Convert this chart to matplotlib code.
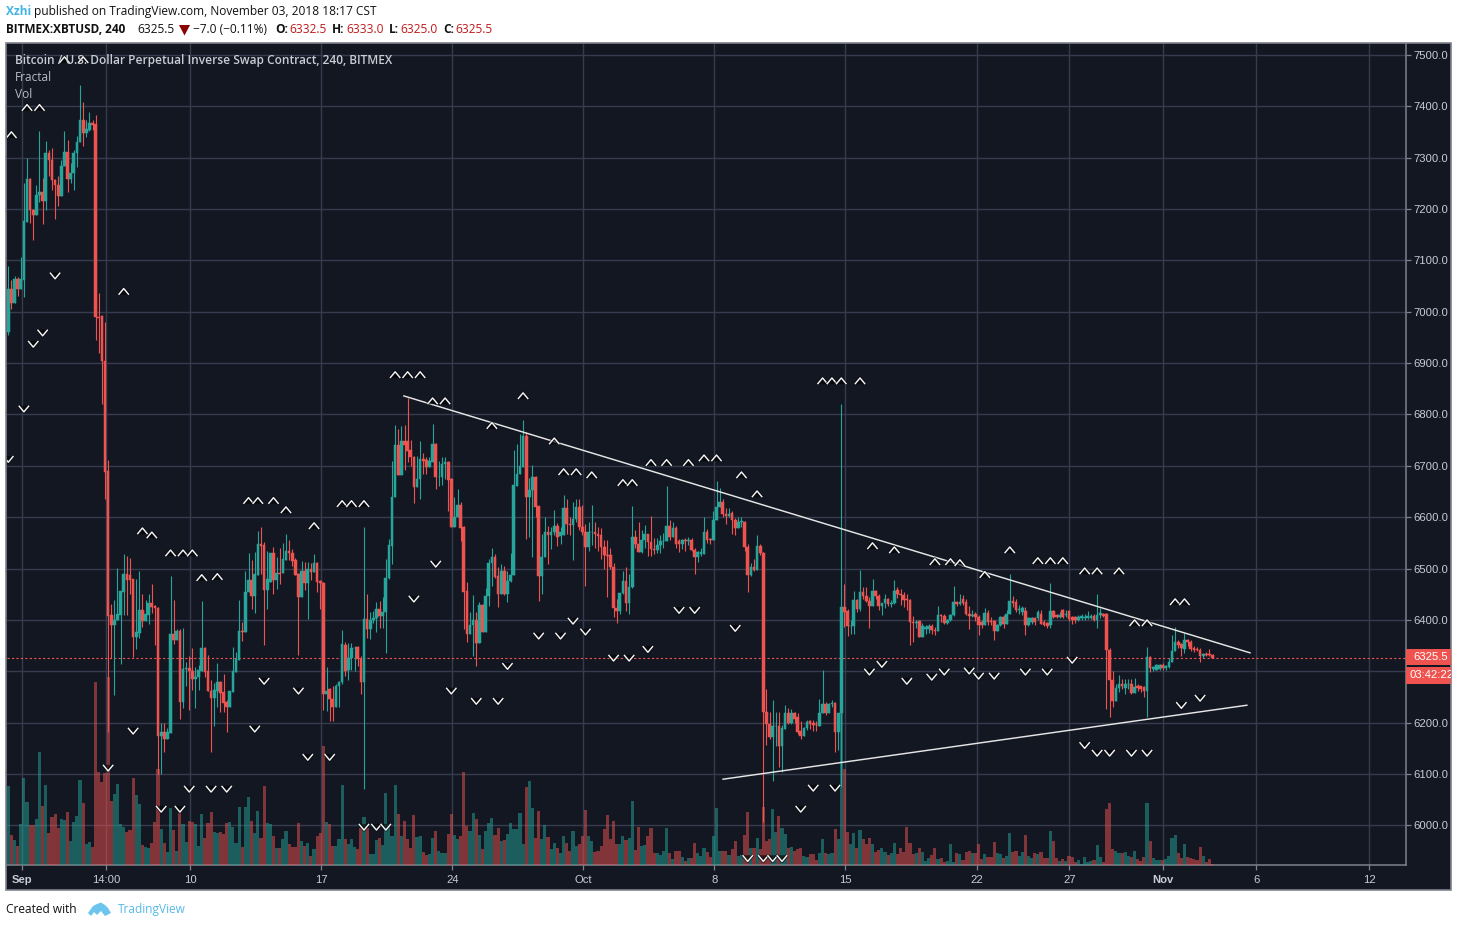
import matplotlib
matplotlib.use("Agg")
import matplotlib.pyplot as plt
from matplotlib.patches import Rectangle, Polygon
from matplotlib.path import Path
import matplotlib.patheffects as pe

W, H = 1458, 927
BG = "#131722"; GRID = "#363c4e"; UP = "#26a69a"; DOWN = "#ef5350"
FONT = "Open Sans"
AXIS_FONT = "Liberation Sans"

OPEN = [
6960,7045,7016,7063,7045,7061,7175,7258,7197,7188,
7228,7233,7215,7309,7295,7256,7247,7225,7284,7311,
7258,7269,7309,7330,7373,7347,7354,7367,7365,6990,
6992,6904,6690,6409,6390,6400,6409,6455,6489,6487,
6479,6367,6375,6419,6398,6409,6432,6428,6424,6175,
6182,6168,6180,6372,6361,6378,6241,6304,6306,6300,
6286,6289,6301,6346,6300,6262,6249,6262,6279,6259,
6240,6231,6260,6299,6322,6379,6377,6455,6477,6447,
6488,6547,6545,6458,6474,6530,6477,6492,6492,6516,
6534,6530,6516,6489,6445,6495,6472,6500,6493,6511,
6475,6471,6255,6265,6246,6231,6272,6279,6352,6302,
6326,6345,6347,6323,6280,6401,6383,6399,6404,6421,
6408,6415,6481,6543,6639,6740,6683,6748,6748,6730,
6718,6658,6675,6714,6711,6698,6708,6742,6678,6679,
6703,6707,6674,6580,6600,6623,6580,6457,6373,6391,
6399,6356,6429,6377,6446,6511,6523,6486,6451,6496,
6451,6475,6487,6660,6684,6698,6758,6640,6653,6679,
6621,6485,6522,6572,6566,6571,6582,6563,6565,6617,
6587,6584,6596,6619,6580,6572,6542,6571,6572,6568,
6566,6542,6526,6526,6503,6423,6418,6453,6475,6433,
6464,6562,6548,6533,6556,6567,6552,6539,6537,6545,
6553,6553,6582,6561,6578,6553,6548,6555,6553,6556,
6537,6522,6529,6529,6572,6558,6555,6594,6619,6629,
6607,6602,6609,6594,6579,6591,6591,6542,6488,6504,
6498,6543,6531,6221,6198,6173,6193,6193,6154,6188,
6218,6199,6218,6211,6183,6175,6190,6203,6199,6196,
6193,6218,6236,6218,6236,6239,6182,6218,6426,6418,
6389,6389,6438,6421,6454,6447,6436,6428,6457,6447,
6428,6433,6440,6431,6433,6458,6450,6448,6441,6438,
6396,6394,6398,6367,6382,6382,6388,6380,6378,6409,
6407,6394,6399,6409,6435,6431,6440,6435,6412,6408,
6411,6405,6396,6390,6414,6398,6398,6378,6390,6405,
6393,6412,6437,6435,6420,6416,6418,6390,6396,6403,
6403,6412,6396,6394,6390,6417,6409,6405,6419,6409,
6418,6406,6405,6399,6403,6403,6403,6404,6407,6399,
6409,6412,6412,6342,6284,6242,6268,6276,6268,6275,
6276,6258,6271,6271,6269,6262,6327,6305,6303,6305,
6313,6307,6308,6318,6340,6358,6354,6344,6360,6358,
6345,6343,6342,6329,6334,6334,6332.5]

HIGH = [
7089,7061,7070,7068,7107,7250,7299,7261,7200,7247,
7352,7260,7332,7315,7319,7258,7264,7295,7352,7334,
7290,7315,7341,7442,7408,7373,7388,7373,7383,7037,
6993,6980,6712,6431,6438,6501,6457,6528,6524,6520,
6480,6479,6495,6451,6438,6451,6470,6430,6426,6200,
6199,6190,6485,6438,6383,6383,6385,6319,6330,6346,
6309,6312,6437,6348,6332,6283,6278,6317,6282,6295,
6244,6261,6348,6338,6438,6396,6495,6530,6516,6532,
6574,6580,6552,6534,6530,6542,6523,6540,6550,6568,
6555,6538,6521,6492,6515,6513,6513,6510,6529,6513,
6477,6474,6309,6267,6272,6275,6282,6380,6358,6356,
6356,6350,6350,6330,6580,6450,6416,6417,6434,6437,
6444,6518,6558,6709,6779,6771,6777,6779,6832,6750,
6720,6720,6748,6724,6718,6718,6781,6744,6710,6718,
6718,6709,6676,6639,6654,6630,6582,6473,6416,6448,
6416,6434,6431,6463,6519,6540,6528,6503,6509,6505,
6496,6530,6730,6743,6761,6790,6766,6677,6702,6681,
6622,6567,6601,6582,6581,6614,6588,6581,6643,6636,
6600,6630,6636,6636,6623,6587,6590,6623,6590,6580,
6578,6556,6555,6540,6510,6440,6453,6496,6503,6490,
6621,6575,6590,6575,6585,6568,6602,6560,6560,6565,
6570,6660,6594,6590,6582,6558,6558,6560,6561,6560,
6540,6535,6540,6601,6577,6560,6613,6670,6656,6636,
6617,6617,6612,6598,6600,6600,6592,6548,6510,6519,
6566,6548,6533,6266,6221,6244,6221,6221,6195,6235,
6228,6226,6221,6218,6204,6192,6206,6206,6206,6204,
6247,6302,6241,6239,6245,6240,6218,6820,6470,6421,
6400,6457,6441,6498,6464,6464,6444,6479,6458,6451,
6433,6451,6442,6438,6477,6464,6460,6455,6450,6440,
6407,6399,6400,6395,6390,6393,6392,6387,6427,6412,
6412,6401,6412,6466,6437,6450,6448,6440,6428,6420,
6415,6410,6400,6424,6419,6405,6400,6392,6408,6410,
6419,6490,6446,6441,6429,6427,6425,6405,6405,6406,
6419,6419,6400,6396,6471,6420,6411,6415,6422,6420,
6420,6408,6408,6410,6412,6412,6418,6412,6412,6450,
6424,6414,6414,6345,6300,6275,6292,6285,6286,6285,
6285,6287,6275,6272,6272,6347,6330,6310,6314,6315,
6317,6312,6325,6370,6386,6360,6356,6375,6362,6360,
6350,6348,6345,6336,6338,6344,6333]

LOW = [
6954,7006,7016,7030,7045,7029,7175,7173,7139,7188,
7214,7170,7197,7264,7236,7181,7206,7225,7284,7232,
7251,7237,7282,7330,7323,7340,7352,7354,6944,6920,
6820,6635,6182,6325,6254,6400,6315,6409,6409,6451,
6327,6344,6364,6387,6398,6392,6413,6351,6100,6100,
6142,6168,6180,6353,6361,6208,6229,6271,6225,6263,
6228,6263,6301,6289,6262,6142,6194,6231,6221,6221,
6182,6231,6260,6299,6322,6359,6377,6455,6422,6414,
6488,6489,6351,6421,6474,6451,6461,6470,6492,6516,
6516,6505,6487,6332,6445,6458,6401,6477,6493,6455,
6422,6225,6223,6204,6203,6231,6231,6275,6290,6284,
6302,6300,6310,6256,6070,6365,6362,6394,6376,6385,
6385,6336,6480,6509,6639,6682,6683,6692,6707,6700,
6627,6658,6636,6685,6685,6698,6708,6654,6660,6662,
6675,6613,6580,6580,6600,6554,6383,6358,6373,6330,
6310,6356,6377,6377,6427,6466,6482,6425,6451,6449,
6435,6473,6487,6660,6684,6698,6558,6561,6522,6601,
6437,6451,6522,6509,6538,6566,6543,6548,6565,6568,
6565,6516,6590,6575,6565,6467,6535,6545,6540,6535,
6519,6500,6444,6500,6405,6395,6412,6450,6418,6412,
6462,6540,6532,6530,6540,6525,6524,6528,6530,6530,
6540,6553,6555,6561,6540,6532,6539,6535,6545,6535,
6490,6513,6525,6529,6550,6548,6555,6594,6619,6600,
6587,6600,6568,6565,6578,6580,6535,6454,6486,6495,
6498,6527,6006,6156,6169,6087,6155,6113,6104,6188,
6198,6198,6199,6178,6169,6175,6185,6188,6183,6183,
6193,6218,6215,6218,6231,6143,6147,6075,6386,6369,
6373,6373,6415,6418,6440,6434,6384,6428,6440,6419,
6410,6423,6428,6425,6431,6442,6430,6425,6420,6351,
6357,6385,6367,6367,6372,6375,6373,6370,6378,6396,
6393,6392,6398,6407,6428,6430,6430,6410,6383,6405,
6398,6370,6385,6390,6390,6390,6360,6378,6388,6385,
6393,6412,6425,6415,6412,6410,6370,6388,6393,6390,
6400,6393,6388,6385,6385,6403,6403,6403,6403,6405,
6397,6393,6395,6397,6400,6400,6401,6402,6398,6385,
6403,6405,6227,6211,6230,6242,6260,6265,6256,6265,
6255,6258,6262,6260,6250,6211,6299,6300,6303,6303,
6303,6303,6306,6318,6340,6345,6329,6335,6350,6340,
6338,6340,6318,6325,6330,6330,6325]

CLOSE = [
7045,7016,7063,7045,7063,7176,7258,7197,7188,7228,
7233,7215,7309,7295,7256,7247,7225,7284,7311,7258,
7269,7309,7330,7373,7347,7356,7367,7363,6990,6988,
6904,6688,6408,6390,6400,6411,6457,6489,6477,6477,
6367,6376,6419,6398,6411,6432,6425,6424,6175,6182,
6168,6182,6372,6361,6378,6241,6304,6306,6300,6286,
6289,6302,6346,6299,6262,6249,6263,6279,6258,6239,
6231,6261,6300,6323,6379,6377,6455,6477,6447,6489,
6547,6544,6458,6479,6530,6477,6492,6490,6518,6534,
6530,6515,6487,6445,6495,6472,6500,6493,6511,6474,
6471,6255,6262,6246,6231,6272,6279,6353,6301,6326,
6345,6345,6323,6280,6401,6383,6399,6404,6421,6408,
6416,6481,6545,6640,6740,6683,6748,6740,6728,6717,
6658,6675,6714,6709,6698,6709,6742,6678,6679,6703,
6707,6672,6580,6601,6623,6578,6455,6373,6391,6399,
6356,6429,6377,6447,6511,6523,6484,6451,6496,6451,
6476,6488,6662,6685,6700,6758,6640,6653,6679,6620,
6485,6522,6572,6566,6571,6582,6562,6571,6617,6587,
6584,6596,6619,6580,6572,6542,6572,6572,6568,6563,
6542,6526,6525,6503,6423,6418,6453,6475,6433,6464,
6562,6548,6533,6556,6567,6552,6539,6537,6545,6553,
6553,6582,6561,6578,6548,6548,6555,6553,6556,6537,
6522,6532,6532,6572,6555,6555,6594,6619,6629,6607,
6602,6607,6594,6579,6591,6592,6542,6488,6504,6498,
6543,6531,6221,6197,6173,6193,6193,6154,6190,6218,
6199,6218,6208,6181,6175,6190,6201,6198,6195,6195,
6218,6236,6218,6236,6239,6182,6218,6426,6415,6389,
6389,6438,6421,6454,6447,6436,6428,6457,6447,6428,
6433,6440,6431,6433,6457,6450,6448,6438,6438,6396,
6394,6396,6367,6388,6386,6389,6380,6378,6409,6408,
6394,6399,6409,6435,6431,6434,6433,6412,6408,6410,
6405,6390,6390,6414,6396,6396,6378,6390,6405,6393,
6412,6437,6432,6420,6422,6424,6390,6403,6403,6396,
6416,6393,6391,6388,6417,6405,6405,6409,6405,6412,
6401,6399,6400,6406,6407,6406,6407,6407,6399,6409,
6414,6407,6342,6284,6242,6268,6276,6271,6276,6276,
6258,6269,6268,6266,6262,6327,6306,6308,6312,6312,
6307,6310,6318,6340,6358,6352,6346,6360,6357,6344,
6341,6342,6329,6334,6332,6332,6325.5]

VOLUME = [
79,30,25,19,41,87,63,40,40,46,
113,59,80,32,48,51,37,46,45,53,
24,43,49,85,62,21,23,18,183,93,
83,92,188,64,71,81,41,38,33,35,
87,70,61,20,18,17,22,43,96,36,
22,13,57,35,14,52,41,23,44,43,
41,19,51,27,42,53,33,32,33,31,
42,43,38,22,58,18,58,68,44,32,
54,27,79,42,41,29,17,17,26,34,
21,18,18,42,24,19,22,9,16,29,
32,119,43,41,19,19,26,80,26,21,
26,18,16,37,48,37,11,11,25,27,
20,72,41,29,80,51,29,44,26,17,
50,28,29,13,10,11,27,34,14,12,
12,31,51,30,26,29,93,39,34,52,
46,30,16,34,42,47,30,37,24,25,
31,42,36,36,52,21,78,84,57,27,
54,26,40,28,16,22,17,12,29,22,
14,34,19,21,29,55,29,24,13,14,
19,36,50,26,44,21,21,29,25,27,
64,15,38,19,20,29,37,12,12,10,
14,37,12,6,14,14,8,4,7,7,
22,12,9,17,13,8,29,57,14,14,
14,10,16,24,9,10,30,53,17,17,
27,16,58,24,26,56,33,49,37,31,
17,18,14,16,17,9,8,11,11,5,
12,26,12,11,12,36,26,152,96,33,
21,32,17,35,26,21,27,21,13,15,
17,13,10,12,22,11,17,13,38,22,
11,12,17,13,4,7,10,17,6,7,
3,4,21,3,12,11,5,13,14,12,
12,21,6,11,8,8,23,12,11,7,
9,32,13,14,9,13,30,9,7,12,
11,13,7,7,34,24,7,4,6,4,
9,8,3,5,1,8,3,4,5,20,
8,3,56,62,16,14,12,12,13,9,
8,14,6,4,8,62,24,7,5,5,
5,6,9,27,30,12,7,21,8,7,
6,5,18,9,3,6,1]

FRACTAL_UP_BAR = [1,6,10,18,24,37,43,46,52,56,59,62,67,77,80,85,89,98,107,110,114,124,128,132,136,140,
                  155,165,175,178,182,187,197,200,206,211,218,223,227,235,240,261,264,267,273,277,284,
                  297,302,305,313,321,330,334,338,345,349,356,361,365,374,377]
FRACTAL_UP_PRICE = [7344,7397,7397,7490,7490,7039,6573,6565,6530,6530,6530,6482,6484,6632,6632,6632,6614,6583,6626,6626,6626,6877,6877,6877,6826,6826,
                    6778,6836,6748,6688,6688,6682,6667,6667,6706,6706,6706,6715,6715,6682,6645,6865,6865,6865,6865,6544,6536,
                    6513,6513,6511,6488,6536,6515,6515,6515,6495,6495,6495,6394,6394,6435,6435]
FRACTAL_DOWN_BAR = [0,5,8,11,15,32,40,49,55,58,65,70,79,82,93,96,103,114,118,121,130,137,142,150,157,160,
                    170,177,181,185,194,199,205,215,220,233,237,242,245,248,254,258,265,276,280,288,296,
                    300,308,311,316,326,333,341,345,349,353,360,365,376,382]
FRACTAL_DOWN_PRICE = [6713,6811,6937,6959,7070,6112,6184,6032,6032,6071,6071,6071,6188,6281,6262,6133,6133,5997,5997,5997,6441,6509,6262,6242,6242,6310,
                      6369,6369,6398,6377,6326,6326,6343,6419,6419,6384,5936,5936,5936,5936,6032,6073,6073,6299,6314,6281,6289,
                      6299,6301,6291,6291,6299,6299,6322,6156,6141,6141,6141,6141,6234,6248]

TREND_UPPER_BAR = [126.8, 398]
TREND_UPPER_PRICE = [6836, 6336]
TREND_LOWER_BAR = [229.1, 397]
TREND_LOWER_PRICE = [6090, 6234]

PRICE_TICKS = [6000,6100,6200,6300,6400,6500,6600,6700,6800,6900,7000,7100,7200,7300,7400,7500]
# 6300.0 sits behind the last-price and countdown tags in the reference
PRICE_TICK_LABELS = ["6000.0","6100.0","6200.0","","6400.0","6500.0","6600.0","6700.0","6800.0","6900.0",
                     "7000.0","7100.0","7200.0","7300.0","7400.0","7500.0"]
DATE_TICK_BARS = [4.49,31.41,58.33,100.32,142.31,184.29,226.28,268.27,310.38,340.06,370.19,400,436.2]
DATE_TICK_LABELS = ["Sep","14:00","10","17","24","Oct","8","15","22","27","Nov","6","12"]
LAST_PRICE = 6325.5

def fx(px): return px / W
def fy(py): return 1 - py / H

fig = plt.figure(figsize=(W / 100, H / 100), dpi=100, facecolor="white")
plt.rcParams["font.family"] = [FONT, "DejaVu Sans"]

fig.add_artist(Rectangle((fx(6), fy(890)), (1451 - 6) / W, (890 - 43) / H, transform=fig.transFigure,
                         facecolor=BG, edgecolor="#7f828c", linewidth=1.2, zorder=0))

rect = [fx(7), fy(865), (1406 - 7) / W, (865 - 44) / H]
XLIM = (-0.417, 448)
YLIM = (5923, 7521)

ax = fig.add_axes(rect, facecolor=BG, zorder=1)
ax.set_xlim(*XLIM); ax.set_ylim(*YLIM)
ax.set_xticks(DATE_TICK_BARS); ax.set_xticklabels(DATE_TICK_LABELS)
ax.set_yticks(PRICE_TICKS); ax.set_yticklabels(PRICE_TICK_LABELS)
ax.yaxis.tick_right()
ax.grid(True, color=GRID, linewidth=1.0)
ax.set_axisbelow(True)
ax.tick_params(axis="both", length=3.5, width=0.9, color="#7f828c", labelcolor="#c9ccd4", labelsize=8.1)
ax.tick_params(axis="y", pad=2)
ax.tick_params(axis="x", pad=4)
for lab in ax.get_xticklabels() + ax.get_yticklabels():
    lab.set_fontfamily(AXIS_FONT)
    if lab.get_text() in ("Sep", "Nov"):
        lab.set_fontweight("bold")
for s in ("top", "left"):
    ax.spines[s].set_visible(False)
for s in ("right", "bottom"):
    ax.spines[s].set_color("#7f828c"); ax.spines[s].set_linewidth(1.1)

bars = list(range(len(CLOSE)))
colors = [UP if c >= o else DOWN for o, c in zip(OPEN, CLOSE)]

ax_vol = fig.add_axes(rect, zorder=2)
ax_vol.patch.set_visible(False); ax_vol.axis("off")
ax_vol.set_xlim(*XLIM); ax_vol.set_ylim(0, 821)
ax_vol.bar(bars, VOLUME, width=1.0, color=colors, alpha=0.5, linewidth=0, antialiased=False)

ax_p = fig.add_axes(rect, zorder=3)
ax_p.patch.set_visible(False); ax_p.axis("off")
ax_p.set_xlim(*XLIM); ax_p.set_ylim(*YLIM)
ax_p.vlines(bars, LOW, HIGH, colors=colors, linewidth=0.8, zorder=2)
ax_p.bar(bars, [c - o for o, c in zip(OPEN, CLOSE)], bottom=OPEN, width=0.85,
         color=colors, edgecolor=colors, linewidth=0.35, zorder=3)

ax_p.axhline(LAST_PRICE, color=DOWN, linewidth=0.8, linestyle=(0, (2, 2)), zorder=1)

ax_p.plot(TREND_UPPER_BAR, TREND_UPPER_PRICE, color="#e6e6e6", linewidth=1.05, zorder=4)
ax_p.plot(TREND_LOWER_BAR, TREND_LOWER_PRICE, color="#e6e6e6", linewidth=1.05, zorder=4)

chev_up = Path([(-1, -0.6), (0, 0.6), (1, -0.6)])
chev_dn = Path([(-1, 0.6), (0, -0.6), (1, 0.6)])
halo = [pe.withStroke(linewidth=2.4, foreground="#05070c", alpha=0.6)]
for xs, ys, mk in ((FRACTAL_UP_BAR, FRACTAL_UP_PRICE, chev_up), (FRACTAL_DOWN_BAR, FRACTAL_DOWN_PRICE, chev_dn)):
    ax_p.plot(xs, ys, linestyle="none", marker=mk, markersize=7.4, markerfacecolor="none",
              markeredgecolor="#f5f5f5", markeredgewidth=1.05, zorder=5, path_effects=halo)

def label(px, py, s, color="#d1d4dc", size=8.6, weight="normal", family=None, **kw):
    return fig.text(fx(px), fy(py), s, color=color, fontsize=size, fontweight=weight,
                    family=family or [FONT, "DejaVu Sans"], va="center", ha="left", zorder=10, **kw)

label(15, 60.5, "Bitcoin / U.S. Dollar Perpetual Inverse Swap Contract, 240, BITMEX", color="#c9ccd4", size=8.6, weight="semibold")
label(15, 77.5, "Fractal", color="#b8bbc4", size=8.6)
label(15, 94.5, "Vol", color="#b8bbc4", size=8.6)

BLACK = "#111111"; RED = "#c01818"
label(6, 11.5, "Xzhi", color="#44b4e6", size=8.6, weight="bold")
label(34, 11.5, "published on TradingView.com, November 03, 2018 18:17 CST", color=BLACK, size=8.6)
label(6, 29.5, "BITMEX:XBTUSD, 240", color=BLACK, size=8.5, weight="bold")
label(137, 29.5, "6325.5", color=BLACK, size=8.6)
fig.add_artist(Polygon([(fx(179), fy(25)), (fx(190), fy(25)), (fx(184.5), fy(35.5))], closed=True,
                       transform=fig.transFigure, facecolor="#8b0000", edgecolor="none", zorder=10))
label(193, 29.5, "\u22127.0 (\u22120.11%)", color=BLACK, size=8.6)
for px, s in [(275, "O:"), (332, "H:"), (389, "L:"), (443, "C:")]:
    label(px, 29.5, s, color=BLACK, size=8.6, weight="bold")
for px, s in [(289, "6332.5"), (346, "6333.0"), (400, "6325.0"), (455, "6325.5")]:
    label(px, 29.5, s, color=RED, size=8.6)

fig.add_artist(Rectangle((fx(1406), fy(664.5)), 45 / W, 15.5 / H, transform=fig.transFigure,
                         facecolor=DOWN, edgecolor="none", zorder=9))
label(1413, 657, "6325.5", color="white", size=8.1, family=AXIS_FONT)
clip_box = Rectangle((fx(1406), fy(684)), 45 / W, 17 / H, transform=fig.transFigure,
                     facecolor=DOWN, edgecolor="none", zorder=9)
fig.add_artist(clip_box)
t = label(1410, 675.5, "03:42:22", color="white", size=8.1, family=AXIS_FONT)
t.set_clip_path(clip_box); t.set_clip_on(True)

label(6, 909.5, "Created with", color=BLACK, size=8.6)
cloud = [(88, 913), (93, 906), (97, 904), (101, 902.5), (105, 905), (108, 908), (111, 913),
         (105, 916), (101, 911), (97, 915), (94, 912), (91, 916)]
fig.add_artist(Polygon([(fx(x), fy(y)) for x, y in cloud], closed=True, transform=fig.transFigure,
                       facecolor="#6cc5ec", edgecolor="none", zorder=10))
label(118, 909.5, "TradingView", color="#55b9e8", size=8.6)

fig.savefig("out.png", dpi=100, facecolor="white")
